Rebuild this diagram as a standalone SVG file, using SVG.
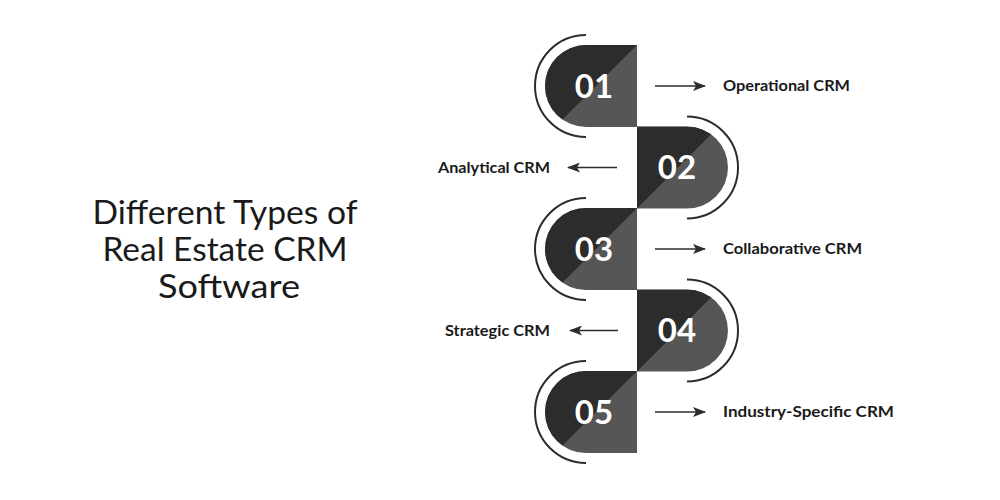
<svg xmlns="http://www.w3.org/2000/svg" width="1000" height="500" viewBox="0 0 1000 500">
<style>
.light{fill:#565656}
.dark{fill:#2c2c2c}
.ring{fill:none;stroke:#2c2c2c;stroke-width:2}
.num{font-family:Lato,"Liberation Sans",sans-serif;font-weight:700;font-size:33px;fill:#ffffff;text-anchor:middle}
.lbl{font-family:Lato,"Liberation Sans",sans-serif;font-weight:700;font-size:15px;fill:#1a1a1a}
.title{font-family:Lato,"Liberation Sans",sans-serif;font-size:33px;fill:#1a1a1a;text-anchor:middle}
.conn{stroke:#2c2c2c;stroke-width:1.6;fill:none}
</style>
<defs>
<path id="shL" d="M51,-41 H0 A41,41 0 0 0 0,41 H51 Z"/>
<path id="shR" d="M-50,-41 H0 A41,41 0 0 1 0,41 H-50 Z"/>
<clipPath id="clipL"><use href="#shL"/></clipPath>
<clipPath id="clipR"><use href="#shR"/></clipPath>
<marker id="ah" viewBox="0 0 13 10" refX="12" refY="5" markerWidth="13" markerHeight="10" markerUnits="userSpaceOnUse" orient="auto">
<path d="M0,0 L13,5 L0,10 L3,5 Z" fill="#2c2c2c"/>
</marker>
</defs>
<rect width="1000" height="500" fill="#ffffff"/>
<g id="title">
<text class="title" x="225" y="224" textLength="265" lengthAdjust="spacingAndGlyphs">Different Types of</text>
<text class="title" x="225" y="261" textLength="245" lengthAdjust="spacingAndGlyphs">Real Estate CRM</text>
<text class="title" x="229" y="298" textLength="142" lengthAdjust="spacingAndGlyphs">Software</text>
</g>
<g id="node1" transform="translate(586,86)">
<use href="#shL" class="light"/>
<polygon class="dark" points="51,-41 -60,-41 -60,70" clip-path="url(#clipL)"/>
<path class="ring" d="M0,-51 A51,51 0 0 0 0,51"/>
<text class="num" x="8" y="11.5">01</text>
</g>
<g id="node2" transform="translate(687,167.5)">
<use href="#shR" class="light"/>
<polygon class="dark" points="-60,51 60,-69 -60,-69" clip-path="url(#clipR)"/>
<path class="ring" d="M0,-51 A51,51 0 0 1 0,51"/>
<text class="num" x="-10" y="11.5">02</text>
</g>
<g id="node3" transform="translate(586,249)">
<use href="#shL" class="light"/>
<polygon class="dark" points="51,-41 -60,-41 -60,70" clip-path="url(#clipL)"/>
<path class="ring" d="M0,-51 A51,51 0 0 0 0,51"/>
<text class="num" x="8" y="11.5">03</text>
</g>
<g id="node4" transform="translate(687,330.5)">
<use href="#shR" class="light"/>
<polygon class="dark" points="-60,51 60,-69 -60,-69" clip-path="url(#clipR)"/>
<path class="ring" d="M0,-51 A51,51 0 0 1 0,51"/>
<text class="num" x="-10" y="11.5">04</text>
</g>
<g id="node5" transform="translate(586,412)">
<use href="#shL" class="light"/>
<polygon class="dark" points="51,-41 -60,-41 -60,70" clip-path="url(#clipL)"/>
<path class="ring" d="M0,-51 A51,51 0 0 0 0,51"/>
<text class="num" x="8" y="11.5">05</text>
</g>
<g id="connectors">
<line class="conn" x1="655" y1="86" x2="705" y2="86" marker-end="url(#ah)"/>
<line class="conn" x1="617" y1="167.5" x2="568" y2="167.5" marker-end="url(#ah)"/>
<line class="conn" x1="655" y1="249" x2="705" y2="249" marker-end="url(#ah)"/>
<line class="conn" x1="618" y1="330.5" x2="570" y2="330.5" marker-end="url(#ah)"/>
<line class="conn" x1="655" y1="412" x2="705" y2="412" marker-end="url(#ah)"/>
</g>
<g id="labels">
<text class="lbl" x="723" y="91" textLength="127" lengthAdjust="spacingAndGlyphs">Operational CRM</text>
<text class="lbl" x="438" y="172.5" textLength="112" lengthAdjust="spacingAndGlyphs">Analytical CRM</text>
<text class="lbl" x="723" y="254" textLength="139" lengthAdjust="spacingAndGlyphs">Collaborative CRM</text>
<text class="lbl" x="445" y="335.5" textLength="105" lengthAdjust="spacingAndGlyphs">Strategic CRM</text>
<text class="lbl" x="723" y="417" textLength="171" lengthAdjust="spacingAndGlyphs">Industry-Specific CRM</text>
</g>
</svg>
